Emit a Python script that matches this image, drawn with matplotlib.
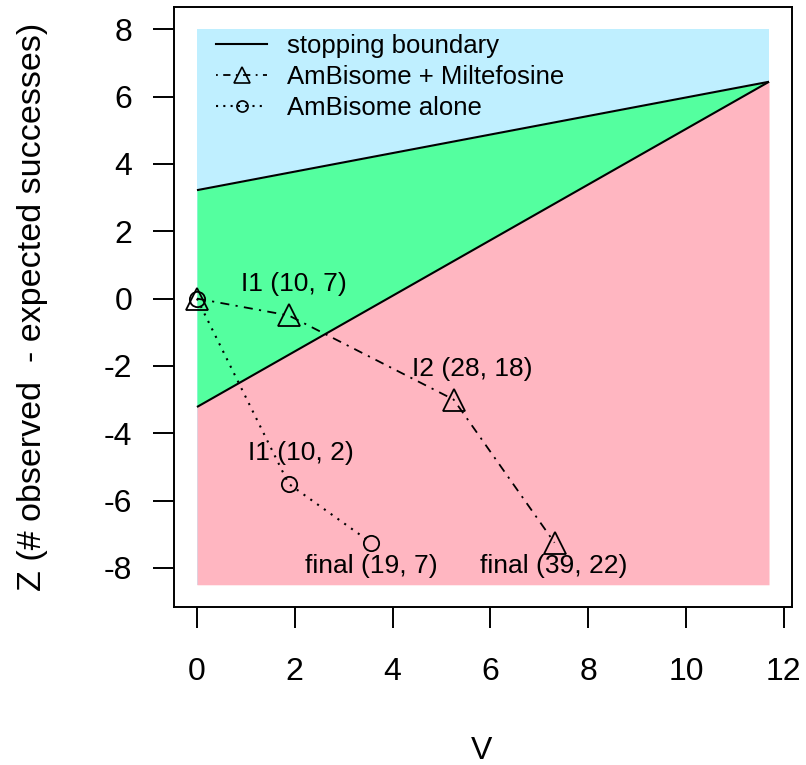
import matplotlib
matplotlib.use("Agg")
import matplotlib.pyplot as plt
from matplotlib.lines import Line2D

plt.rcParams['font.family'] = ['Liberation Sans', 'DejaVu Sans']
plt.rcParams['axes.unicode_minus'] = False

# stopping boundaries (triangular test)
boundary_v = [0, 11.7]
upper_z = [3.22, 6.44]
lower_z = [-3.22, 6.44]
region_top = 8
region_bottom = -8.5

# observed paths
combo_v = [0, 1.875, 5.25, 7.3125]
combo_z = [0, -0.5, -3.0, -7.25]
alone_v = [0, 1.875, 3.5625]
alone_z = [0, -5.5, -7.25]

# point labels
labels = ['I1 (10, 7)', 'I2 (28, 18)', 'I1 (10, 2)', 'final (19, 7)', 'final (39, 22)']
label_v = [1.99, 5.64, 2.13, 3.56, 7.30]
label_z = [0.43, -2.10, -4.59, -7.95, -7.95]

col_blue = '#BFEFFF'
col_green = '#54FF9F'
col_pink = '#FFB6C1'

fig = plt.figure(figsize=(8.06, 7.65), dpi=100)
ax = fig.add_axes([174 / 806, 158 / 765, 618 / 806, 600 / 765])

ax.fill_between(boundary_v, region_bottom, region_top, color=col_blue, lw=0)
ax.fill_between(boundary_v, lower_z, upper_z, color=col_green, lw=0)
ax.fill_between(boundary_v, region_bottom, lower_z, color=col_pink, lw=0)

ax.plot(boundary_v, upper_z, color='black', lw=1.5, solid_capstyle='butt')
ax.plot(boundary_v, lower_z, color='black', lw=1.5, solid_capstyle='butt')

ax.plot(combo_v, combo_z, color='black', lw=1.3, ls=(0, (5, 3.5, 1.2, 3.5)),
        marker='^', ms=16, mfc='none', mec='black', mew=1.3)
ax.plot(alone_v, alone_z, color='black', lw=1.5, ls=(0, (1, 3)),
        marker='o', ms=11, mfc='none', mec='black', mew=1.3)

for txt, v, z in zip(labels, label_v, label_z):
    ax.text(v, z, txt, ha='center', va='center', fontsize=19)

ax.set_xlim(-0.47, 12.17)
ax.set_ylim(-9.16, 8.66)
ax.set_xticks(range(0, 13, 2))
ax.set_yticks(range(-8, 9, 2))
ax.tick_params(axis='both', direction='out', length=15, width=1.4, labelsize=23)
ax.tick_params(axis='x', pad=21)
ax.tick_params(axis='y', pad=15)
for sp in ax.spines.values():
    sp.set_linewidth(1.4)

handles = [
    Line2D([], [], color='black', lw=1.5),
    Line2D([], [], color='black', lw=1.3, ls=(0, (1, 3, 4, 3)),
           marker='^', ms=11, mfc='none', mec='black', mew=1.2),
    Line2D([], [], color='black', lw=1.5, ls=(0, (1, 2.5)),
           marker='o', ms=8, mfc='none', mec='black', mew=1.2),
]
ax.legend(handles, ['stopping boundary', 'AmBisome + Miltefosine', 'AmBisome alone'],
          loc='upper left', bbox_to_anchor=(0.068, 0.955), frameon=False,
          fontsize=18.5, handlelength=2.0, handletextpad=0.75, labelspacing=0.28,
          borderpad=0, borderaxespad=0)

fig.text(33 / 806, 1 - 307 / 765, 'Z (# observed  - expected successes)',
         rotation=90, ha='center', va='center', fontsize=24.5)
fig.text(482 / 806, 1 - 751 / 765, 'V', ha='center', va='center', fontsize=23)

fig.savefig('out.png', dpi=100)
